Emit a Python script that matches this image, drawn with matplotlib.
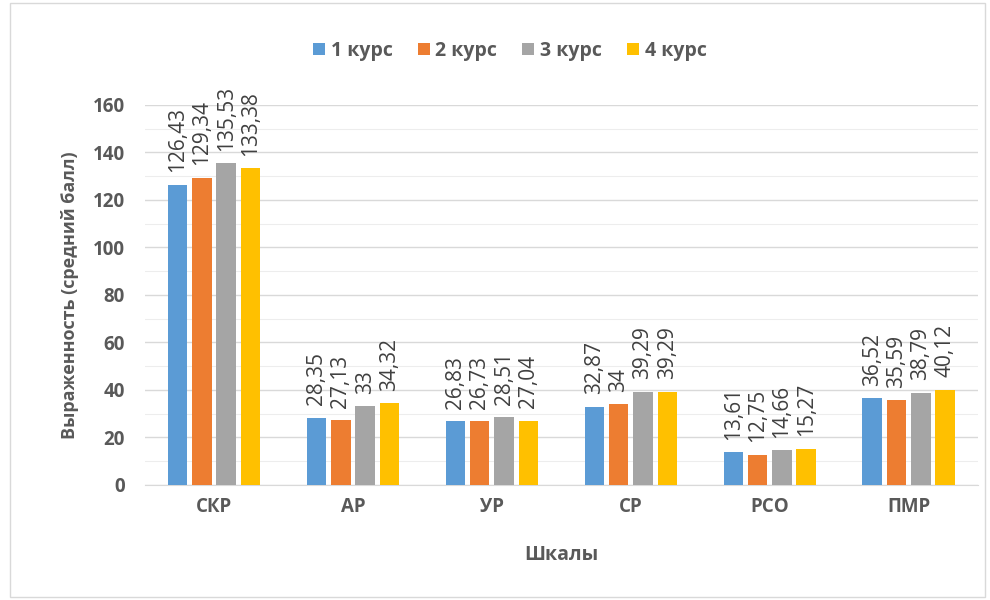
import numpy as np
import matplotlib.pyplot as plt
from matplotlib.patches import Rectangle

scales = ["СКР", "АР", "УР", "СР", "РСО", "ПМР"]
kurs1 = [126.43, 28.35, 26.83, 32.87, 13.61, 36.52]
kurs2 = [129.34, 27.13, 26.73, 34, 12.75, 35.59]
kurs3 = [135.53, 33, 28.51, 39.29, 14.66, 38.79]
kurs4 = [133.38, 34.32, 27.04, 39.29, 15.27, 40.12]
series_names = ["1 курс", "2 курс", "3 курс", "4 курс"]
colors = ["#5B9BD5", "#ED7D31", "#A5A5A5", "#FFC000"]

plt.rcParams['font.family'] = ['Open Sans', 'DejaVu Sans']

fig = plt.figure(figsize=(9.9, 6), dpi=100)
ax = fig.add_axes([0.146, 0.192, 0.842, 0.633])

# light border round the chart area
fig.patches.append(Rectangle((0.01, 0.005), 0.985, 0.99, transform=fig.transFigure,
                             fill=False, edgecolor="#D9D9D9", linewidth=1))

x = np.arange(len(scales))
pitch = 0.175
width = 0.14
for i, (vals, name, c) in enumerate(zip([kurs1, kurs2, kurs3, kurs4], series_names, colors)):
    pos = x + (i - 1.5) * pitch
    ax.bar(pos, vals, width, color=c, label=name, zorder=3)
    for p, v in zip(pos, vals):
        txt = ("%g" % v).replace(".", ",")
        ax.annotate(txt, (p, v), xytext=(0, 9), textcoords="offset points",
                    rotation=90, ha="center", va="bottom", fontsize=15, color="#404040")

ax.set_xlim(-0.5, len(scales) - 0.5)
ax.set_ylim(0, 160)
ax.set_yticks(range(0, 161, 20))
ax.set_yticks(range(0, 161, 10), minor=True)
ax.grid(axis="y", which="major", color="#D9D9D9", linewidth=1, zorder=0)
ax.grid(axis="y", which="minor", color="#EDEDED", linewidth=0.8, zorder=0)
ax.set_xticks(x)
ax.set_xticklabels(scales)
for s in ["top", "right", "left"]:
    ax.spines[s].set_visible(False)
ax.spines["bottom"].set_color("#D9D9D9")
ax.tick_params(axis="both", which="both", length=0, labelsize=13.5, labelcolor="#595959")
ax.tick_params(axis="x", pad=9)
ax.tick_params(axis="y", pad=14)
for t in ax.get_xticklabels() + ax.get_yticklabels():
    t.set_fontweight("bold")

ax.set_xlabel("Шкалы", fontsize=14, color="#595959", fontweight="bold", labelpad=20)
ax.set_ylabel("Выраженность (средний балл)", fontsize=13, color="#595959", fontweight="bold", labelpad=10)

fig.legend(loc="center", bbox_to_anchor=(0.515, 0.915), ncol=4, frameon=False,
           handlelength=0.6, handleheight=0.6, handletextpad=0.3, columnspacing=1.3,
           prop={"size": 14, "weight": "bold"}, labelcolor="#595959")

fig.savefig("out.png", dpi=100)
